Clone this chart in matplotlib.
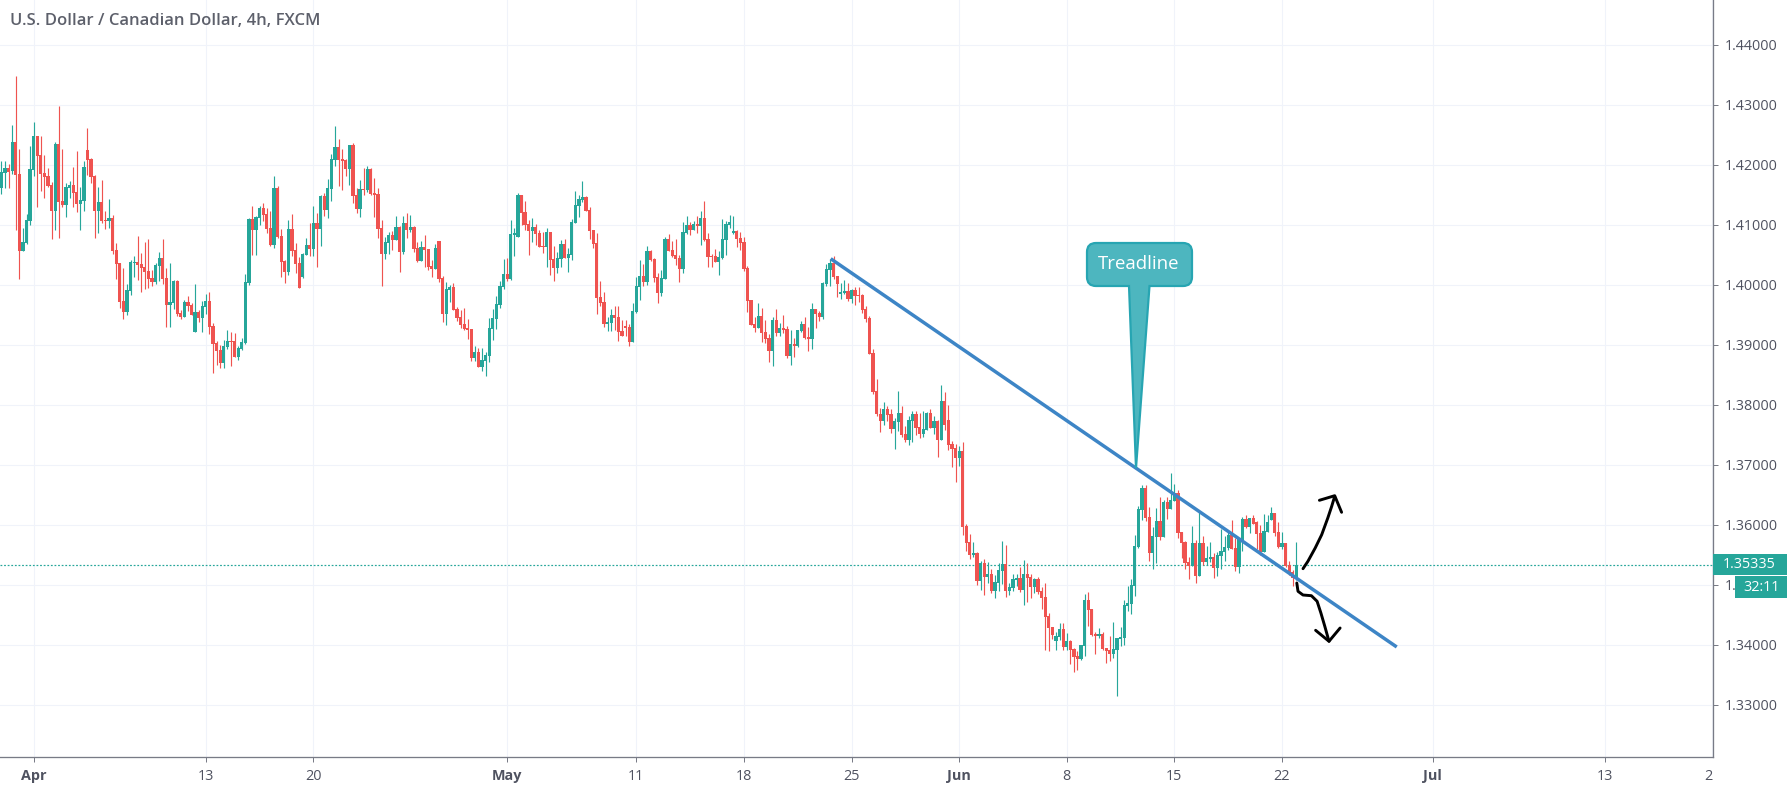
import numpy as np
import matplotlib
matplotlib.use("Agg")
import matplotlib.pyplot as plt
from matplotlib.patches import PathPatch, Rectangle
from matplotlib.path import Path
from matplotlib.transforms import Affine2D, blended_transform_factory

TITLE = "U.S. Dollar / Canadian Dollar, 4h, FXCM"
FONT = "Open Sans"

# price of each 4h candle, in pips (1/10000)
opens = [14162,14187,14195,14190,14238,14185,14056,14070,14106,14191,
14248,14216,14186,14181,14166,14123,14235,14140,14133,14161,
14166,14155,14135,14140,14225,14210,14181,14123,14138,14108,
14106,14111,14058,14036,13973,13955,13990,14036,14038,14035,
14030,14023,14011,14005,14031,14045,14011,13966,13970,14006,
13953,13946,13971,13966,13921,13955,13945,13963,13973,13931,
13903,13892,13870,13897,13907,13907,13880,13893,13903,14003,
14110,14092,14112,14128,14118,14095,14067,14162,14082,14040,
14022,14093,14058,14037,14013,14050,14067,14060,14103,14093,
14148,14125,14160,14208,14230,14210,14208,14193,14233,14150,
14127,14160,14158,14193,14153,14152,14095,14052,14070,14083,
14075,14097,14055,14103,14092,14097,14062,14040,14063,14060,
14032,14027,14073,14012,13952,13992,13997,13960,13947,13935,
13929,13927,13879,13889,13864,13874,13882,13927,13944,13967,
13997,14019,14010,14084,14080,14150,14122,14102,14090,14097,
14087,14065,14064,14089,14044,14029,14044,14069,14045,14050,
14104,14132,14142,14147,14125,14092,14070,13980,13972,13935,
13937,13950,13947,13924,13932,13930,13905,13955,13997,14015,
14005,14057,14044,14014,13986,14010,14076,14058,14050,14045,
14026,14086,14100,14091,14101,14098,14111,14076,14048,14048,
14038,14045,14075,14100,14086,14090,14078,14071,14028,13975,
13935,13928,13948,13921,13911,13890,13941,13920,13928,13926,
13881,13901,13898,13923,13935,13913,13910,13960,13953,13946,
14001,14025,14036,14015,13985,13986,13990,13976,13991,13983,
13983,13960,13945,13886,13823,13785,13774,13794,13785,13760,
13772,13787,13752,13742,13774,13785,13764,13752,13759,13787,
13762,13774,13742,13807,13775,13735,13729,13712,13724,13599,
13572,13550,13554,13507,13537,13514,13519,13490,13504,13524,
13535,13490,13495,13509,13512,13492,13519,13514,13497,13510,
13490,13480,13449,13430,13407,13414,13427,13397,13407,13394,
13382,13377,13399,13475,13460,13419,13415,13418,13395,13391,
13385,13391,13410,13411,13465,13468,13498,13563,13625,13661,
13613,13553,13580,13606,13580,13638,13626,13640,13653,13588,
13571,13538,13531,13570,13515,13570,13538,13543,13546,13528,
13548,13555,13561,13583,13561,13530,13575,13610,13596,13611,
13605,13586,13555,13588,13608,13620,13588,13563,13570,13533,
13521,13510]

closes = [14188,14195,14189,14238,14183,14056,14071,14108,14193,14248,
14215,14185,14180,14165,14123,14235,14138,14133,14163,14166,
14153,14135,14141,14196,14208,14180,14123,14138,14106,14106,
14111,14056,14035,13971,13955,13991,14038,14038,14033,14028,
14021,14010,14005,14033,14045,14010,13966,13971,14006,13951,
13946,13971,13965,13950,13955,13945,13965,13973,13930,13901,
13890,13870,13898,13907,13905,13880,13895,13905,14005,14110,
14092,14113,14128,14117,14093,14067,14162,14080,14038,14022,
14093,14057,14035,13995,14052,14067,14060,14103,14093,14148,
14125,14162,14210,14230,14208,14207,14193,14233,14148,14127,
14160,14158,14193,14152,14150,14093,14052,14072,14083,14075,
14097,14055,14103,14092,14097,14060,14040,14063,14058,14030,
14027,14062,14010,13952,13994,13997,13959,13945,13934,13927,
13925,13879,13889,13864,13875,13884,13929,13945,13969,13999,
14019,14010,14085,14087,14150,14120,14100,14090,14097,14085,
14064,14064,14089,14042,14029,14045,14069,14045,14052,14105,
14134,14144,14147,14124,14090,14069,13979,13970,13935,13939,
13950,13945,13922,13915,13929,13905,13957,13999,14015,14005,
14057,14042,14012,13987,14011,14076,14056,14048,14043,14026,
14088,14100,14091,14101,14098,14111,14075,14046,14046,14038,
14046,14076,14101,14105,14090,14076,14070,14026,13973,13933,
13928,13948,13920,13910,13890,13941,13920,13928,13925,13881,
13901,13898,13925,13935,13911,13910,13960,13951,13946,14003,
14026,14036,14013,14001,13988,13990,13976,13991,13981,13981,
13958,13943,13885,13821,13785,13774,13794,13784,13760,13774,
13787,13750,13742,13775,13785,13762,13752,13760,13787,13762,
13774,13742,13807,13767,13734,13727,13712,13724,13597,13570,
13550,13554,13507,13537,13514,13519,13490,13505,13525,13535,
13490,13497,13510,13512,13492,13519,13512,13497,13510,13489,
13479,13447,13429,13417,13415,13427,13397,13407,13392,13380,
13377,13400,13475,13459,13417,13415,13419,13393,13390,13385,
13393,13411,13413,13466,13470,13500,13565,13626,13661,13611,
13553,13581,13606,13580,13638,13626,13641,13653,13586,13570,
13536,13531,13570,13515,13570,13538,13545,13546,13528,13550,
13556,13563,13583,13560,13530,13576,13610,13596,13611,13601,
13585,13555,13590,13605,13620,13586,13563,13570,13531,13518,
13511,13533.5]

highs = [14207,14207,14201,14266,14348,14226,14095,14118,14231,14271,
14248,14248,14216,14195,14171,14238,14298,14226,14170,14173,
14196,14223,14163,14206,14261,14211,14183,14163,14175,14123,
14143,14116,14070,14036,14028,14001,14041,14048,14081,14053,
14071,14076,14025,14036,14055,14076,14028,14036,14008,14008,
13958,13975,13981,13970,14001,13958,13973,13985,13988,13936,
13906,13900,13908,13925,13922,13920,13898,13912,14018,14112,
14132,14115,14132,14137,14128,14123,14182,14165,14093,14042,
14108,14118,14070,14047,14053,14078,14103,14132,14120,14150,
14153,14177,14218,14265,14243,14227,14210,14233,14237,14162,
14175,14195,14198,14195,14178,14162,14108,14080,14088,14090,
14115,14098,14115,14120,14117,14098,14072,14073,14083,14060,
14042,14068,14073,14015,14005,14000,14004,13964,13959,13962,
13944,13927,13899,13895,13895,13889,13945,13960,13982,14007,
14044,14045,14109,14095,14154,14150,14140,14109,14112,14102,
14092,14089,14095,14089,14065,14055,14075,14077,14062,14110,
14157,14150,14174,14149,14130,14092,14087,14007,13989,13947,
13960,13965,13965,13942,13942,13935,13970,14014,14042,14035,
14065,14059,14045,14020,14025,14080,14085,14073,14076,14050,
14105,14115,14105,14106,14115,14123,14140,14086,14051,14060,
14056,14110,14106,14116,14115,14091,14088,14080,14031,13975,
13946,13970,13961,13941,13918,13946,13960,13936,13950,13931,
13925,13911,13925,13940,13946,13930,13970,13960,13956,14005,
14035,14043,14048,14015,14003,14008,14003,13993,13996,13996,
13985,13965,13948,13893,13843,13795,13805,13799,13794,13779,
13824,13799,13765,13782,13790,13790,13787,13790,13789,13794,
13782,13775,13834,13822,13800,13740,13735,13732,13739,13602,
13585,13572,13555,13540,13544,13539,13527,13517,13537,13574,
13567,13504,13519,13519,13530,13542,13537,13519,13512,13514,
13497,13504,13454,13430,13422,13437,13437,13420,13409,13395,
13390,13400,13485,13489,13460,13422,13429,13421,13395,13415,
13438,13411,13430,13475,13498,13510,13583,13631,13666,13666,
13630,13596,13628,13646,13641,13646,13686,13668,13658,13588,
13573,13546,13598,13575,13621,13581,13565,13571,13553,13555,
13593,13581,13588,13608,13578,13578,13613,13616,13611,13616,
13606,13600,13618,13616,13630,13620,13605,13588,13570,13540,
13525,13571]

lows = [14151,14162,14162,14185,14091,14010,14056,14068,14100,14181,
14130,14156,14145,14163,14076,14091,14078,14130,14113,14145,
14130,14121,14091,14123,14183,14170,14078,14086,14103,14093,
14095,14051,14010,13961,13943,13950,13983,14013,14008,13988,
13993,13995,13998,14001,14006,14001,13930,13930,13960,13948,
13943,13946,13956,13950,13921,13938,13921,13951,13918,13853,
13866,13862,13862,13893,13865,13880,13875,13892,13902,14000,
14050,14050,14100,14107,14087,14065,14062,14078,14013,14003,
14017,14048,14020,13995,14012,14050,14048,14048,14030,14065,
14115,14112,14140,14198,14165,14158,14182,14167,14137,14120,
14113,14150,14155,14150,14113,14078,13998,14043,14052,14058,
14075,14022,14052,14078,14088,14055,14038,14040,14030,14025,
14013,14027,14005,13939,13934,13972,13959,13940,13929,13925,
13910,13874,13874,13864,13857,13849,13872,13909,13927,13962,
13994,14007,14009,14049,14080,14100,14092,14050,14072,14067,
14064,14054,14030,14017,14007,14020,14030,14045,14022,14042,
14104,14114,14139,14124,14077,14062,13952,13965,13930,13924,
13924,13925,13907,13915,13915,13899,13905,13954,13975,13999,
14000,14040,14005,13970,13981,14010,14056,14046,14033,14005,
14020,14085,14083,14091,14086,14066,14073,14030,14030,14038,
14016,14043,14050,14095,14085,14063,14058,14023,13955,13933,
13921,13928,13905,13903,13871,13865,13915,13915,13920,13878,
13866,13880,13896,13921,13910,13890,13893,13928,13940,13943,
13998,13998,14010,13980,13976,13985,13973,13970,13966,13971,
13953,13938,13885,13818,13781,13755,13767,13774,13754,13727,
13757,13747,13739,13734,13739,13750,13745,13747,13759,13762,
13752,13714,13742,13759,13725,13697,13672,13699,13584,13557,
13544,13547,13500,13492,13484,13504,13487,13479,13490,13502,
13480,13484,13490,13499,13489,13467,13472,13479,13487,13485,
13460,13392,13390,13410,13392,13409,13392,13392,13369,13355,
13359,13375,13382,13432,13415,13385,13412,13391,13370,13373,
13378,13315,13398,13400,13456,13451,13481,13561,13608,13606,
13540,13526,13536,13575,13580,13610,13626,13640,13578,13545,
13526,13510,13531,13503,13515,13533,13533,13538,13511,13515,
13526,13540,13558,13560,13523,13520,13556,13595,13586,13601,
13560,13550,13555,13588,13608,13581,13561,13560,13530,13516,
13498,13508]

price_ticks = [1.33, 1.34, 1.35, 1.36, 1.37, 1.38, 1.39, 1.40, 1.41, 1.42, 1.43, 1.44]
date_positions = [9, 57, 87, 141, 177, 207, 237, 267, 297, 327, 357, 399, 447]
date_labels = ["Apr", "13", "20", "May", "11", "18", "25", "Jun", "8", "15", "22", "Jul", "13"]
month_labels = {"Apr", "May", "Jun", "Jul"}
clipped_date_position = 477
clipped_date_label = "20"
last_price = 1.35335
countdown = "32:11"
trend_index = [231.2, 389.0]
trend_price = [1.40438, 1.33967]

GREEN, RED = "#26a69a", "#ef5350"
GRID, AXIS, TEXT = "#f0f3fa", "#787b86", "#4f5260"
W, H, AX_W, AX_B = 1787, 793, 1713, 757
PX = 0.72

plt.rcParams["font.family"] = [FONT, "DejaVu Sans"]
fig = plt.figure(figsize=(W / 100, H / 100), dpi=100, facecolor="white")
ax = fig.add_axes([0, (H - AX_B) / H, AX_W / W, AX_B / H])
ax.set_xlim(-0.39, 477.17)
ax.set_ylim(1.44 - 712 / 6000, 1.44 + 45 / 6000)

O, C = np.array(opens) / 1e4, np.array(closes) / 1e4
Hi, Lo = np.array(highs) / 1e4, np.array(lows) / 1e4
idx = np.arange(len(O))
colors = [GREEN if c >= o else RED for o, c in zip(O, C)]

ax.vlines(idx, Lo, Hi, colors=colors, linewidth=PX * 1.15, zorder=3)
ax.bar(idx, np.abs(C - O), bottom=np.minimum(O, C), width=0.9, color=colors,
       linewidth=0, zorder=3.1)

ax.set_xticks(date_positions)
ax.set_xticklabels(date_labels)
ax.set_yticks(price_ticks)
ax.set_yticklabels([f"{p:.5f}" for p in price_ticks])
ax.yaxis.tick_right()
ax.grid(True, color=GRID, linewidth=PX * 1.1, zorder=0)
ax.axvline(clipped_date_position, color=GRID, linewidth=PX * 1.1, zorder=0)
ax.set_axisbelow(True)
for s in ("top", "left"):
    ax.spines[s].set_visible(False)
for s in ("right", "bottom"):
    ax.spines[s].set_color(AXIS)
    ax.spines[s].set_linewidth(PX * 1.3)
ax.tick_params(axis="both", length=3.6, width=PX, color=AXIS, labelcolor=TEXT, labelsize=10.4)
ax.tick_params(axis="x", pad=5)
ax.tick_params(axis="y", pad=5)
for lbl, s in zip(ax.get_xticklabels(), date_labels):
    if s in month_labels:
        lbl.set_fontweight("bold")

# date label cut off by the price panel
t = ax.annotate(clipped_date_label, (clipped_date_position, 0), xycoords=("data", "axes fraction"),
                xytext=(0, -8.6), textcoords="offset points", ha="center", va="top",
                fontsize=10.4, color=TEXT, annotation_clip=False)
t.set_clip_path(Rectangle((0, 0), AX_W, H, transform=Affine2D()))

ax.axhline(last_price, color=GREEN, linewidth=PX * 1.2, linestyle=(0, (1.5, 1.5)), zorder=2.5)
ax.plot(trend_index, trend_price, color="#3d85c6", linewidth=2.5, solid_capstyle="butt", zorder=4)

# price panel labels
bt = blended_transform_factory(ax.transAxes, ax.transData)
ax.add_patch(Rectangle((1.0, last_price - 10.5 / 6000), 74 / AX_W, 21 / 6000, transform=bt,
                       facecolor=GREEN, edgecolor="none", clip_on=False, zorder=6))
ax.text(1 + 10 / AX_W, last_price, f"{last_price:.5f}", transform=bt, color="white", fontsize=10.4,
        fontweight="medium", va="center", ha="left", clip_on=False, zorder=7)
ax.add_patch(Rectangle((1 + 22 / AX_W, last_price - 33 / 6000), 52 / AX_W, 21.5 / 6000, transform=bt,
                       facecolor=GREEN, edgecolor="none", clip_on=False, zorder=6))
ax.text(1 + 48 / AX_W, last_price - 22.3 / 6000, countdown, transform=bt, color="white", fontsize=10.4,
        fontweight="medium", va="center", ha="center", clip_on=False, zorder=7)

# overlays placed in screen pixels, measured from the top-left corner
px = Affine2D().scale(1, -1).translate(0, H)
verts, codes = [], []
def mv(x, y): verts.append((x, y)); codes.append(Path.MOVETO)
def ln(x, y): verts.append((x, y)); codes.append(Path.LINETO)
def qd(cx, cy, x, y):
    verts.extend([(cx, cy), (x, y)]); codes.extend([Path.CURVE3, Path.CURVE3])
L_, R_, T_, B_, r_ = 1087, 1192, 243, 286, 9
mv(L_ + r_, T_); ln(R_ - r_, T_); qd(R_, T_, R_, T_ + r_); ln(R_, B_ - r_); qd(R_, B_, R_ - r_, B_)
ln(1149.5, B_); ln(1136, 468); ln(1129, B_); ln(L_ + r_, B_); qd(L_, B_, L_, B_ - r_)
ln(L_, T_ + r_); qd(L_, T_, L_ + r_, T_)
verts.append((L_ + r_, T_)); codes.append(Path.CLOSEPOLY)
ax.add_patch(PathPatch(Path(verts, codes), transform=px, facecolor="#4db6bf", edgecolor="#27a5b2",
                       linewidth=1.6, clip_on=False, zorder=5))
ax.text(1139, 264, "Treadline", transform=px, color="white", fontsize=13.4, fontweight="medium",
        ha="center", va="center", zorder=5.5)

ink = dict(color="black", linewidth=2.1, transform=px, solid_capstyle="round", solid_joinstyle="round",
           clip_on=False, zorder=5)
ax.plot([1303, 1307.9, 1315.2, 1321.7, 1327.8, 1331.7, 1334.7], [568.7, 561.3, 548, 534.7, 518, 506.3, 496.3], **ink)
ax.plot([1319.4, 1334.7, 1341.6], [500.3, 495.7, 512.3], **ink)
ax.plot([1296.8, 1298, 1303, 1311.4, 1317.1, 1320.9, 1324.8, 1329], [583, 591.3, 595, 595.7, 601.3, 613, 626.3, 641.3], **ink)
ax.plot([1315.6, 1329, 1340.1], [630.3, 641.3, 628], **ink)

ax.text(10, 21, TITLE, transform=px, color="#5d606b", fontsize=12, fontweight="semibold", ha="left", va="center", zorder=8)

fig.savefig("out.png", dpi=100, facecolor="white")
